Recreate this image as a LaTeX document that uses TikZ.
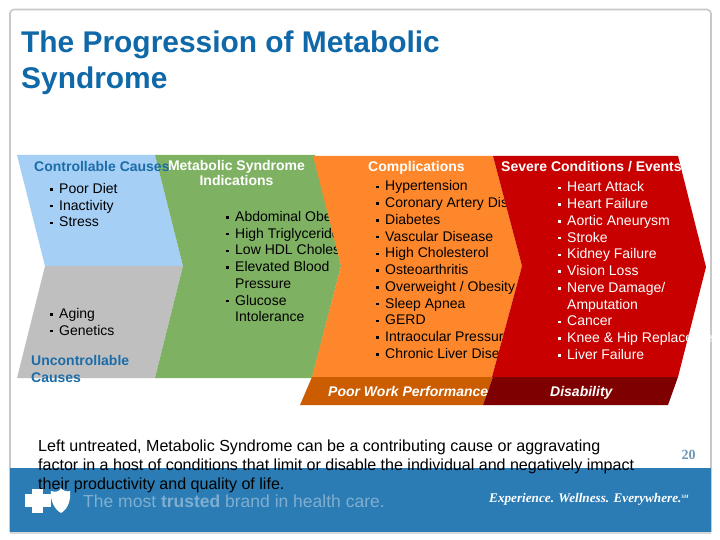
\documentclass[tikz,border=0pt]{standalone}
\usepackage{fontspec}
\setmainfont{Liberation Sans}
\newfontfamily\serifbrand{Liberation Serif}
\definecolor{bandblue}{HTML}{2B7CB4}
\definecolor{lightblue}{HTML}{A6CFF5}
\definecolor{greyc}{HTML}{BFBFBF}
\definecolor{greenc}{HTML}{7FB163}
\definecolor{orangec}{HTML}{FF872B}
\definecolor{redc}{HTML}{C80000}
\definecolor{darkor}{HTML}{CC5C00}
\definecolor{darkred}{HTML}{7F0000}
\definecolor{headblue}{HTML}{1B6CA8}
\definecolor{titleblue}{HTML}{0F68A8}
\definecolor{fadeblue}{HTML}{7FAED0}
\definecolor{pagenum}{HTML}{6F97B4}
\definecolor{framegrey}{HTML}{C8C8C8}
\tikzset{
  listtxt/.style={anchor=north west,inner sep=0pt,align=left,font=\fontsize{14}{16.75}\selectfont},
  headtxt/.style={inner sep=0pt,font=\fontsize{14}{15}\selectfont\bfseries,align=center},
  foottxt/.style={inner sep=0pt,font=\fontsize{14}{15}\selectfont\bfseries\itshape,text=white},
}
\newcommand{\itm}{\makebox[9pt][l]{\raisebox{2.8pt}{\rule{2.4pt}{2.4pt}}}}
\begin{document}
\begin{tikzpicture}[x=1pt,y=-1pt]
\useasboundingbox (0,0) rectangle (720,540);
\fill[white] (0,0) rectangle (720,540);
% slide frame
\draw[framegrey,line width=1.6pt,rounded corners=4pt] (10,532) -- (10,9.5) -- (711,9.5) -- (711,532);
% chevrons
\fill[lightblue] (17,155) -- (155,155) -- (183,266) -- (45,266) -- cycle;
\fill[greyc] (45,266) -- (183,266) -- (155,378) -- (17,378) -- cycle;
\node[listtxt] (causes1) at (50,183) {\itm Poor Diet\\\itm Inactivity\\\itm Stress};
\node[listtxt] (causes2) at (50,308) {\itm Aging\\\itm Genetics};
\fill[greenc] (155,155) -- (315,155) -- (341,266) -- (312,378) -- (155,378) -- (183,266) -- cycle;
\node[listtxt] (ind) at (226,211) {\itm Abdominal Obesity\\\itm High Triglycerides\\\itm Low HDL Cholesterol\\\itm Elevated Blood\\\hspace*{9pt}Pressure\\\itm Glucose\\\hspace*{9pt}Intolerance};
\fill[orangec] (313,156) -- (493,156) -- (522,266) -- (492,377) -- (312,377) -- (341,266) -- cycle;
\node[listtxt] (comp) at (376,180.5) {\itm Hypertension\\\itm Coronary Artery Disease\\\itm Diabetes\\\itm Vascular Disease\\\itm High Cholesterol\\\itm Osteoarthritis\\\itm Overweight / Obesity\\\itm Sleep Apnea\\\itm GERD\\\itm Intraocular Pressure\\\itm Chronic Liver Disease};
\fill[darkor] (312,377) -- (493,377) -- (483,405) -- (300,405) -- cycle;
\fill[redc] (493,156) -- (678,156) -- (706,267) -- (678,377) -- (492,377) -- (522,266) -- cycle;
\node[listtxt,text=white] (sev) at (558,181.5) {\itm Heart Attack\\\itm Heart Failure\\\itm Aortic Aneurysm\\\itm Stroke\\\itm Kidney Failure\\\itm Vision Loss\\\itm Nerve Damage/\\\hspace*{9pt}Amputation\\\itm Cancer\\\itm Knee \& Hip Replacement\\\itm Liver Failure};
\fill[darkred] (493,377) -- (678,377) -- (668,405) -- (483,405) -- cycle;
% headings
\node[headtxt,text=headblue,anchor=base west] (h1) at (34,172) {Controllable Causes};
\node[headtxt,text=white] (h2) at (236.5,172.5) {Metabolic Syndrome\\Indications};
\node[headtxt,text=white,anchor=base west] (h3) at (368,172) {Complications};
\node[headtxt,text=white,anchor=base west] (h4) at (501,172) {Severe Conditions / Events};
\node[headtxt,text=headblue,anchor=north west,align=left,font=\fontsize{14}{17}\selectfont\bfseries] (h5) at (31,355.5) {Uncontrollable\\Causes};
\node[foottxt,anchor=base west] (f1) at (328,396) {Poor Work Performance};
\node[foottxt,anchor=base west] (f2) at (550,396) {Disability};
% band
\fill[bandblue] (10,468) rectangle (711,532);
\fill[framegrey!70] (10,532) rectangle (711,533.5);
% title
\node[anchor=north west,inner sep=0pt,align=left,text=titleblue,font=\fontsize{29.9}{36}\selectfont\bfseries] (title) at (21,31) {The Progression of Metabolic\\Syndrome};
% body
\node[anchor=north west,inner sep=0pt,align=left,font=\fontsize{16.05}{19}\selectfont] (body) at (38,439.5) {Left untreated, Metabolic Syndrome can be a contributing cause or aggravating\\factor in a host of conditions that limit or disable the individual and negatively impact\\their productivity and quality of life.};
\node[anchor=center,inner sep=0pt,text=pagenum,font=\serifbrand\fontsize{14}{14}\selectfont\bfseries] (pg) at (688.5,455) {20};
% logos
\fill[white] (32,489) rectangle (43,513);
\fill[white] (25,494) rectangle (51,507);
\fill[white] (51,491) .. controls (56,493) and (60,491) .. (61,488) .. controls (63,491) and (67,492) .. (70,491) .. controls (71,500) and (68,509) .. (61,513) .. controls (54,509) and (50,500) .. (51,491) -- cycle;
\node[anchor=west,inner sep=0pt,text=fadeblue,font=\fontsize{17.5}{19}\selectfont] (brand) at (83,501) {The most \textbf{trusted} brand in health care.};
\node[anchor=west,inner sep=0pt,text=white,font=\serifbrand\fontsize{13.2}{17}\selectfont\bfseries\itshape] (slog) at (489,499) {Experience. Wellness. Everywhere.\raisebox{4pt}{\fontsize{5}{5}\selectfont SM}};
\end{tikzpicture}
\end{document}
